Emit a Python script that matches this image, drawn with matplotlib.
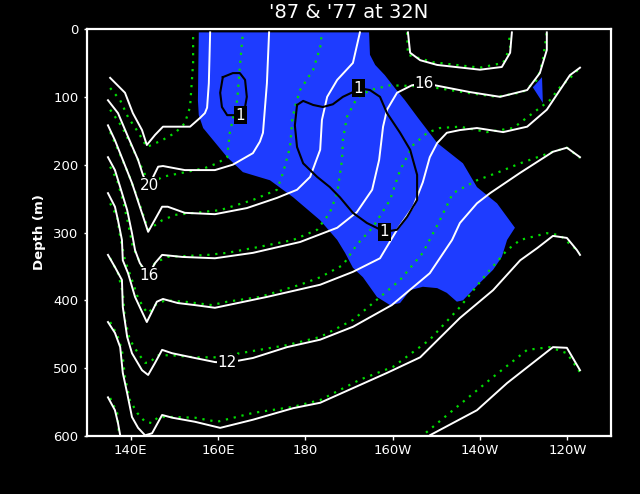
import numpy as np
import matplotlib
matplotlib.use("Agg")
import matplotlib.pyplot as plt
from matplotlib.patches import Polygon

# =========================
# DATA  (longitude degE, depth m), read off the section at 32N
# =========================

# 1987 isotherms (solid white)
t87_22 = [(135.3, 72), (138.7, 94), (140.5, 124), (142.6, 149), (143.7, 171), (145.6, 156),
          (147.4, 144), (153.6, 144), (155.9, 131), (157.0, 124), (157.5, 116), (157.9, 80),
          (158.2, 5)]
t87_20 = [(134.8, 105), (137.1, 124), (139.4, 159), (141.7, 193), (142.8, 215), (144.0, 233),
          (146.3, 203), (147.4, 202), (152.4, 208), (159.3, 208), (163.4, 200), (168.0, 183),
          (169.6, 166), (170.3, 153), (171.2, 80), (171.7, 5)]
t87_18 = [(134.8, 142), (136.4, 164), (138.2, 193), (140.3, 227), (142.1, 262), (144.0, 299),
          (147.2, 262), (148.5, 262), (152.4, 271), (159.3, 273), (166.6, 264), (173.5, 249),
          (178.1, 237), (181.1, 218), (183.4, 178), (183.8, 134), (185.0, 100), (187.3, 75),
          (190.9, 50), (192.5, 5)]
t87_18b = [(203.5, 5), (204.0, 35), (206.3, 46), (210.2, 53), (220.0, 60), (225.0, 56),
           (226.9, 35), (227.3, 5)]
t87_16 = [(134.8, 189), (136.4, 208), (137.6, 233), (139.2, 267), (140.3, 301), (141.0, 326),
          (142.1, 345), (144.0, 363), (145.6, 345), (147.2, 333), (151.8, 336), (159.3, 338),
          (168.0, 330), (178.8, 314), (187.3, 293), (191.8, 270), (195.3, 237), (196.9, 193),
          (197.8, 144), (198.7, 119), (201.0, 94), (204.4, 83), (207.2, 80), (209.7, 83),
          (217.7, 93), (224.6, 100), (230.8, 90), (233.7, 65), (235.3, 31), (235.3, 5)]
t87_14 = [(134.8, 242), (136.4, 262), (137.1, 282), (138.0, 311), (138.2, 341), (139.4, 360),
          (141.0, 395), (142.6, 417), (143.7, 432), (146.0, 402), (147.4, 398), (150.8, 404),
          (154.7, 407), (159.3, 411), (171.2, 395), (183.4, 377), (190.9, 358), (197.1, 338),
          (201.0, 296), (204.7, 262), (206.9, 226), (208.5, 189), (210.2, 168), (212.4, 153),
          (215.4, 149), (219.3, 146), (225.3, 152), (230.8, 144), (235.3, 119), (238.3, 90),
          (240.6, 68), (242.9, 57)]
t87_12 = [(134.8, 333), (136.4, 351), (138.0, 370), (138.2, 410), (139.2, 454), (140.3, 478),
          (142.6, 503), (144.0, 510), (145.6, 492), (147.2, 473), (149.5, 478), (154.7, 485),
          (159.3, 491), (162.1, 492), (168.0, 485), (175.8, 469), (183.4, 458), (190.9, 439),
          (199.8, 407), (208.5, 360), (213.6, 311), (215.4, 286), (219.3, 257), (222.3, 242),
          (229.2, 212), (236.7, 181), (239.9, 175), (242.9, 189)]
t87_10 = [(134.8, 432), (136.4, 448), (137.6, 469), (138.2, 507), (139.2, 537), (140.3, 572),
          (141.7, 588), (143.3, 599), (144.9, 596), (147.2, 569), (149.5, 573), (154.7, 579),
          (160.5, 588), (168.0, 576), (177.2, 559), (183.4, 551), (198.7, 507), (206.3, 484),
          (215.4, 426), (223.0, 385), (229.2, 341), (233.1, 323), (236.7, 305), (239.9, 308),
          (242.2, 326), (242.9, 333)]
t87_8a = [(134.8, 543), (136.4, 562), (137.1, 581), (137.6, 599), (137.7, 604)]
t87_8b = [(208.1, 604), (208.5, 599), (219.3, 562), (226.2, 522), (236.7, 469), (239.9, 470),
          (242.9, 503)]

# 1977 isotherms (green dotted)
t77_22 = [(135.3, 87), (137.6, 105), (139.4, 130), (141.7, 152), (143.7, 174), (147.2, 164),
          (150.2, 153), (152.4, 139), (153.6, 115), (154.3, 50), (154.3, 5)]
t77_20 = [(135.3, 119), (138.0, 144), (140.3, 174), (142.8, 208), (144.4, 230), (147.2, 218),
          (151.8, 212), (157.0, 205), (159.8, 198), (162.1, 189), (162.7, 153), (164.4, 105),
          (165.0, 56), (165.7, 5)]
t77_18 = [(135.3, 152), (137.1, 178), (139.4, 212), (141.5, 248), (143.3, 282), (144.0, 296),
          (147.2, 282), (150.2, 274), (154.7, 271), (160.5, 267), (168.0, 252), (173.5, 237),
          (174.9, 212), (176.5, 174), (177.0, 134), (177.6, 115), (178.8, 90), (181.8, 60),
          (183.4, 27), (183.8, 5)]
t77_18b = [(203.3, 5), (203.5, 38), (209.2, 49), (220.0, 57), (225.3, 50), (226.9, 27),
           (226.6, 5)]
t77_16 = [(135.3, 203), (136.9, 223), (138.2, 252), (139.4, 286), (140.5, 321), (142.6, 351),
          (144.0, 355), (146.0, 343), (148.5, 336), (157.7, 333), (162.1, 330), (169.6, 321),
          (177.2, 311), (182.7, 296), (185.6, 271), (187.3, 242), (188.4, 193), (188.6, 164),
          (189.5, 130), (191.8, 102), (194.8, 90), (199.4, 83), (204.4, 84), (210.2, 87),
          (217.0, 94), (223.9, 100), (229.8, 93), (233.1, 75), (234.4, 46), (235.3, 5)]
t77_14 = [(135.3, 257), (136.9, 277), (137.6, 306), (138.7, 341), (140.3, 370), (141.7, 397),
          (143.3, 414), (144.0, 419), (145.6, 407), (147.9, 400), (152.4, 402), (158.6, 407),
          (162.1, 402), (169.6, 395), (178.8, 377), (183.4, 366), (188.6, 348), (191.8, 318),
          (195.5, 292), (199.4, 252), (201.7, 208), (204.7, 171), (207.9, 153), (210.8, 146),
          (215.4, 144), (221.6, 152), (227.6, 146), (232.1, 124), (236.0, 105), (238.3, 86),
          (241.3, 68), (242.9, 57)]
t77_12 = [(135.3, 338), (137.1, 360), (138.2, 389), (138.7, 429), (139.8, 458), (141.7, 478),
          (143.3, 492), (144.4, 492), (146.0, 481), (149.5, 481), (154.7, 484), (159.8, 484),
          (165.0, 478), (175.8, 466), (183.4, 454), (190.9, 429), (195.5, 404), (201.7, 370),
          (206.9, 330), (210.8, 282), (213.8, 242), (219.3, 223), (223.9, 212), (229.2, 198),
          (236.7, 181), (239.9, 175), (242.9, 190)]
t77_10 = [(135.3, 432), (136.9, 451), (138.0, 473), (138.7, 513), (139.8, 547), (141.5, 566),
          (143.3, 579), (144.9, 581), (146.3, 572), (149.5, 572), (154.7, 573), (159.8, 579),
          (168.0, 566), (177.2, 557), (183.4, 547), (192.5, 517), (200.1, 498), (208.5, 458),
          (215.4, 410), (221.6, 360), (226.2, 326), (229.2, 311), (235.3, 301), (238.3, 304),
          (241.3, 321), (242.9, 329)]
t77_8a = [(135.3, 544), (136.9, 566), (137.3, 596), (137.4, 604)]
t77_8b = [(206.5, 604), (206.9, 599), (213.8, 562), (223.0, 513), (230.8, 473), (236.0, 469),
          (239.9, 478), (242.9, 506)]

# warming region '87 - '77 (blue fill)
warm_main = [(155.6, 5), (194.6, 5), (194.8, 38), (196.0, 53), (198.2, 68), (200.5, 87),
             (202.8, 105), (205.8, 131), (210.2, 168), (216.1, 198), (219.3, 233), (223.9, 257),
             (228.0, 293), (226.2, 311), (225.0, 336), (223.0, 355), (220.0, 374), (216.1, 400),
             (214.7, 402), (212.4, 389), (210.2, 382), (206.9, 380), (204.0, 385), (201.7, 404),
             (199.4, 407), (196.4, 395), (193.2, 366), (190.9, 352), (189.1, 330), (187.3, 311),
             (183.4, 282), (177.2, 248), (171.9, 223), (165.7, 211), (162.1, 189), (158.9, 164),
             (156.6, 146), (155.6, 127), (155.4, 105)]
warm_small = [(232.1, 86), (234.2, 71), (234.4, 109)]

# difference = 1 contours (black)
diff1_a = [(161.1, 71), (163.4, 65), (165.0, 65), (166.2, 75), (166.6, 100), (166.2, 115),
           (165.0, 127), (162.1, 127), (160.9, 115), (160.5, 94), (161.1, 71)]
diff1_b = [(178.1, 112), (179.5, 106), (181.8, 112), (184.0, 115), (186.3, 111), (188.6, 100),
           (190.9, 93), (192.1, 87), (194.8, 90), (197.1, 100), (198.7, 124), (201.7, 153),
           (204.0, 178), (205.6, 215), (205.6, 252), (203.3, 277), (201.0, 296), (198.2, 299),
           (194.1, 286), (190.9, 271), (187.9, 248), (185.6, 233), (182.7, 218), (179.5, 198),
           (178.1, 174), (177.6, 142), (178.1, 112)]

# contour labels: (text, lon, depth)
iso_labels = [("20", 144.2, 231), ("16", 144.2, 363), ("12", 162.1, 492), ("16", 207.2, 80)]
diff_labels = [("1", 165.1, 127), ("1", 192.2, 87), ("1", 198.1, 299)]

x_ticks = [140, 160, 180, 200, 220, 240]
x_ticklabels = ["140E", "160E", "180", "160W", "140W", "120W"]
y_ticks = [0, 100, 200, 300, 400, 500, 600]

WHITE = "white"
GREEN = "#00dc00"
BLUE = "#1e3cff"

# =========================
# PLOT
# =========================

fig = plt.figure(figsize=(6.4, 4.94), dpi=100, facecolor="black")
ax = fig.add_axes([87 / 640, 1 - 436 / 494, 524 / 640, 407 / 494])
ax.set_facecolor("black")

for poly in (warm_main, warm_small):
    ax.add_patch(Polygon(np.array(poly), closed=True, facecolor=BLUE, edgecolor="none", zorder=1))

for line in (t77_22, t77_20, t77_18, t77_18b, t77_16, t77_14, t77_12, t77_10, t77_8a, t77_8b):
    arr = np.array(line)
    ax.plot(arr[:, 0], arr[:, 1], color=GREEN, lw=1.6, linestyle=(0, (1, 2.6)),
            dash_capstyle="butt", zorder=2)

for line in (t87_22, t87_20, t87_18, t87_18b, t87_16, t87_14, t87_12, t87_10, t87_8a, t87_8b):
    arr = np.array(line)
    ax.plot(arr[:, 0], arr[:, 1], color=WHITE, lw=1.4, zorder=3)

for line in (diff1_a, diff1_b):
    arr = np.array(line)
    ax.plot(arr[:, 0], arr[:, 1], color="black", lw=1.5, zorder=4)

for txt, x, y in iso_labels:
    ax.text(x, y, txt, color=WHITE, fontsize=11, ha="center", va="center", zorder=5,
            bbox=dict(facecolor="black", edgecolor="none", pad=0.5))
for txt, x, y in diff_labels:
    ax.text(x, y, txt, color=WHITE, fontsize=11, ha="center", va="center", zorder=5,
            bbox=dict(facecolor="black", edgecolor="none", pad=1.2))

ax.set_xlim(130, 250)
ax.set_ylim(600, 0)
ax.set_xticks(x_ticks)
ax.set_xticklabels(x_ticklabels)
ax.set_yticks(y_ticks)

for sp in ax.spines.values():
    sp.set_color(WHITE)
    sp.set_linewidth(1.6)
ax.tick_params(axis="x", colors=WHITE, direction="out", length=3, width=1, pad=3, labelsize=9.5)
ax.tick_params(axis="y", colors=WHITE, direction="out", length=2, width=1, pad=4, labelsize=9.5)

ax.set_ylabel("Depth (m)", color=WHITE, fontsize=9.5, fontweight="bold")
ax.yaxis.set_label_coords((46 - 87) / 524, 0.5)

fig.text(349 / 640, 1 - 13 / 494, "'87 & '77 at 32N", color=WHITE, fontsize=14,
         ha="center", va="center")

fig.savefig("out.png", dpi=100, facecolor="black")
